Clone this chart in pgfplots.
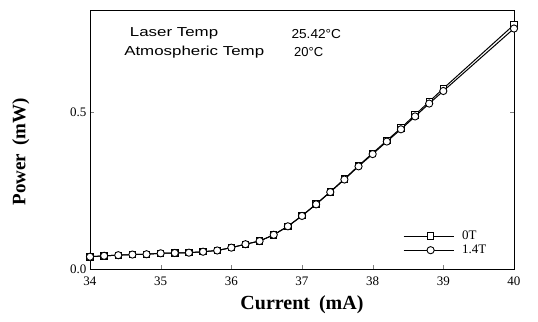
\documentclass[border=0pt]{standalone}
\usepackage{fontspec}
\setmainfont{Liberation Serif}
\newfontfamily\annot{Liberation Sans}
\usepackage{pgfplots}
\pgfplotsset{compat=1.18}
\begin{document}
\begin{tikzpicture}
\useasboundingbox (-90bp,-53bp) rectangle (448bp,269bp);
\begin{axis}[
  scale only axis,
  width=424bp, height=259bp,
  xmin=34, xmax=40, ymin=0, ymax=0.825,
  xtick={34,35,36,37,38,39,40},
  ytick={0,0.5},
  xtick pos=bottom, ytick pos=both,
  tick align=inside,
  major tick length=4bp,
  axis line style={line width=0.9pt},
  /pgf/number format/assume math mode=true,
  yticklabel style={/pgf/number format/fixed,/pgf/number format/precision=1,/pgf/number format/fixed zerofill},
  ticklabel style={font=\fontsize{13bp}{15bp}\selectfont},
  xticklabel style={yshift=-4bp},
  xlabel={\textbf{Current\hspace{9bp}(mA)}},
  ylabel={\textbf{Power\hspace{8bp}(mW)}},
  xlabel style={font=\fontsize{20bp}{22bp}\selectfont, at={(axis description cs:0.5,-0.139)}, anchor=center},
  ylabel style={font=\fontsize{19bp}{22bp}\selectfont, at={(axis description cs:-0.163,0.452)}, anchor=center},
  legend style={draw=none, fill=none, at={(0.738,0.155)}, anchor=north west,
     font=\fontsize{13bp}{14bp}\selectfont, row sep=0bp, inner sep=0pt,
     /tikz/every odd column/.append style={column sep=6bp}},
  legend cell align=left,
  legend image code/.code={
    \draw[#1] (0bp,0bp) -- (50bp,0bp);
    \draw[#1,mark repeat=1] plot coordinates {(27bp,0bp)};
  },
]
\addplot[black, line width=1pt, mark=square*, mark size=3.2bp, mark options={fill=white, solid, line width=0.9pt}] coordinates {
(34.0,0.039) (34.2,0.042) (34.4,0.044) (34.6,0.046) (34.8,0.047)
(35.0,0.050) (35.2,0.051) (35.4,0.052) (35.6,0.055) (35.8,0.059)
(36.0,0.068) (36.2,0.079) (36.4,0.089) (36.6,0.109) (36.8,0.136)
(37.0,0.170) (37.2,0.207) (37.4,0.246) (37.6,0.287) (37.8,0.329)
(38.0,0.369) (38.2,0.409) (38.4,0.449) (38.6,0.491) (38.8,0.533)
(39.0,0.575) (40.0,0.778)
};
\addlegendentry{0T}
\addplot[black, line width=1pt, mark=*, mark size=3.6bp, mark options={fill=white, solid, line width=0.9pt}] coordinates {
(34.0,0.039) (34.2,0.042) (34.4,0.044) (34.6,0.046) (34.8,0.047)
(35.0,0.050) (35.2,0.051) (35.4,0.052) (35.6,0.055) (35.8,0.059)
(36.0,0.068) (36.2,0.079) (36.4,0.089) (36.6,0.109) (36.8,0.136)
(37.0,0.169) (37.2,0.206) (37.4,0.245) (37.6,0.285) (37.8,0.327)
(38.0,0.366) (38.2,0.406) (38.4,0.445) (38.6,0.486) (38.8,0.527)
(39.0,0.567) (40.0,0.766)
};
\addlegendentry{1.4T}
\node[anchor=west, font=\annot\fontsize{13bp}{15bp}\selectfont, xscale=1.3] at (axis cs:34.5,0.75) {Laser Temp};
\node[anchor=west, font=\annot\fontsize{13bp}{15bp}\selectfont, xscale=1.05] at (axis cs:36.80,0.75) {25.42°C};
\node[anchor=west, font=\annot\fontsize{13bp}{15bp}\selectfont, xscale=1.3] at (axis cs:34.42,0.69) {Atmospheric Temp};
\node[anchor=west, font=\annot\fontsize{13bp}{15bp}\selectfont] at (axis cs:36.84,0.69) {20°C};
\end{axis}
\end{tikzpicture}
\end{document}
